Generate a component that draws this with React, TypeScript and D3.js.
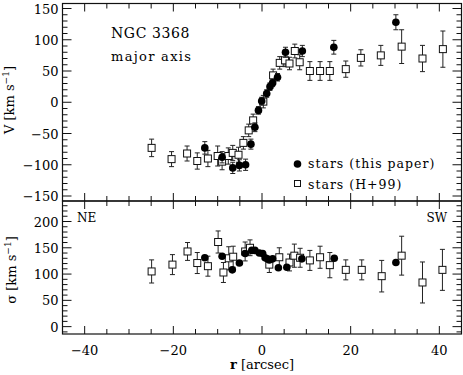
import { useRef, useEffect } from 'react';
import * as d3 from 'd3';

// velocity, this paper (filled circles)
const velThisR = [-12.9, -9.0, -6.6, -5.1, -3.7, -2.5, -1.6, -0.8, -0.07, 1.06, 1.8, 2.4, 3.5, 5.3, 9.1, 16.2, 30.2];
const velThisV = [-73, -88, -105, -101, -100, -67, -40, -13, 2, 14, 25, 31, 40, 80, 82, 88, 128];
const velThisErr = [10, 9, 9, 9, 9, 8, 7, 6, 6, 6, 6, 6, 6, 8, 9, 11, 12];

// velocity, H+99 (open squares)
const velHR = [-24.9, -20.4, -16.9, -14.6, -12.2, -10.0, -9.0, -7.6, -6.6, -5.3, -4.2, -3.0, -2.0, 0.3, 2.5, 4.0, 5.2, 6.2, 7.4, 8.5, 10.8, 13.1, 15.3, 18.9, 22.3, 26.8, 31.5, 36.2, 40.8];
const velHV = [-73, -91, -82, -94, -90, -86, -95, -86, -81, -84, -65, -45, -29, 1, 43, 63, 67, 62, 82, 64, 50, 50, 50, 53, 71, 75, 89, 70, 85];
const velHErr = [14, 12, 12, 13, 13, 16, 13, 13, 12, 12, 10, 10, 10, 10, 10, 10, 10, 10, 11, 12, 15, 15, 15, 13, 13, 16, 27, 21, 29];

// dispersion, this paper
const sigThisR = [-12.9, -9.0, -6.7, -5.1, -3.8, -2.3, -1.6, -0.6, 0.15, 0.7, 1.2, 1.65, 2.4, 3.7, 5.6, 9.0, 16.3, 30.2];
const sigThisS = [131, 134, 108, 121, 139, 145, 145, 140, 139, 131, 129, 127, 129, 112, 113, 129, 130, 122];

// dispersion, H+99
const sigHR = [-24.9, -20.2, -16.8, -14.6, -12.2, -9.9, -8.7, -7.5, -6.5, -3.8, -2.7, 1.65, 3.9, 6.2, 7.3, 8.6, 10.8, 13.1, 15.3, 18.9, 22.5, 27, 31.5, 36.2, 40.7];
const sigHS = [105, 118, 143, 121, 115, 161, 103, 130, 133, 143, 150, 118, 132, 122, 135, 131, 126, 132, 117, 108, 108, 96, 135, 84, 108];
const sigHErr = [22, 19, 17, 20, 19, 21, 19, 22, 20, 18, 15, 15, 18, 16, 22, 18, 19, 21, 24, 19, 19, 30, 37, 39, 39];

const xMajor = [-40, -20, 0, 20, 40];
const velMajor = [-150, -100, -50, 0, 50, 100, 150];
const sigMajor = [0, 50, 100, 150, 200];

const FONT = 'DejaVu Serif';

export default function App() {
    const svgRef = useRef<SVGSVGElement>(null);

    useEffect(() => {
        const svg = d3.select(svgRef.current);
        svg.selectAll('*').remove();

        const x = d3.scaleLinear().domain([-45, 45]).range([62.5, 461.5]);
        const yV = d3.scaleLinear().domain([-158, 158]).range([201, 3.5]);
        const yS = d3.scaleLinear().domain([-14, 239]).range([334, 201]);

        const minus = (d: number) => (d < 0 ? '\u2212' + Math.abs(d) : String(d));

        const panel = (y: d3.ScaleLinear<number, number>, major: number[], minorStep: number) => {
            const g = svg.append('g');
            const [y0, y1] = y.range();
            const [x0, x1] = x.range();
            g.append('rect')
                .attr('x', x0).attr('y', y1)
                .attr('width', x1 - x0).attr('height', y0 - y1)
                .attr('fill', 'none').attr('stroke', '#111').attr('stroke-width', 1.2);

            // x ticks every 5, long at every 20
            const xt = d3.range(-45, 46, 5);
            xt.forEach(t => {
                const len = t % 20 === 0 ? 8 : 5;
                g.append('line').attr('x1', x(t)).attr('x2', x(t)).attr('y1', y0).attr('y2', y0 - len)
                    .attr('stroke', '#111');
                g.append('line').attr('x1', x(t)).attr('x2', x(t)).attr('y1', y1).attr('y2', y1 + len)
                    .attr('stroke', '#111');
            });
            // y ticks
            const [d0, d1] = y.domain();
            const yt = d3.range(Math.ceil(d0 / minorStep) * minorStep, d1 + 0.01, minorStep);
            yt.forEach(t => {
                const len = major.includes(t) ? 9 : 5;
                g.append('line').attr('x1', x0).attr('x2', x0 + len).attr('y1', y(t)).attr('y2', y(t))
                    .attr('stroke', '#111');
                g.append('line').attr('x1', x1).attr('x2', x1 - len).attr('y1', y(t)).attr('y2', y(t))
                    .attr('stroke', '#111');
            });
            g.selectAll('.ylab')
                .data(major)
                .enter()
                .append('text')
                .attr('x', x0 - 4)
                .attr('y', d => y(d) + 5)
                .attr('text-anchor', 'end')
                .style('font-family', FONT)
                .style('font-size', '13px')
                .text(d => minus(d));
            return g;
        };

        const gV = panel(yV, velMajor, 10);
        const gS = panel(yS, sigMajor, 10);

        // x tick labels
        svg.selectAll('.xlab')
            .data(xMajor)
            .enter()
            .append('text')
            .attr('x', d => x(d))
            .attr('y', 355)
            .attr('text-anchor', 'middle')
            .style('font-family', FONT)
            .style('font-size', '13px')
            .text(d => minus(d));

        const errBars = (g: any, rs: number[], vs: number[], es: number[], y: d3.ScaleLinear<number, number>) => {
            rs.forEach((r, i) => {
                const cx = x(r);
                const top = y(vs[i] + es[i]);
                const bot = y(vs[i] - es[i]);
                g.append('line').attr('x1', cx).attr('x2', cx).attr('y1', top).attr('y2', bot).attr('stroke', '#222');
                g.append('line').attr('x1', cx - 2.5).attr('x2', cx + 2.5).attr('y1', top).attr('y2', top).attr('stroke', '#222');
                g.append('line').attr('x1', cx - 2.5).attr('x2', cx + 2.5).attr('y1', bot).attr('y2', bot).attr('stroke', '#222');
            });
        };

        const squares = (g: any, rs: number[], vs: number[], y: d3.ScaleLinear<number, number>) => {
            g.selectAll(null)
                .data(rs)
                .enter()
                .append('rect')
                .attr('x', (d: number) => x(d) - 3.5)
                .attr('y', (_: number, i: number) => y(vs[i]) - 3.5)
                .attr('width', 7)
                .attr('height', 7)
                .attr('fill', 'white')
                .attr('stroke', '#111')
                .attr('stroke-width', 1);
        };

        const dots = (g: any, rs: number[], vs: number[], y: d3.ScaleLinear<number, number>) => {
            g.selectAll(null)
                .data(rs)
                .enter()
                .append('circle')
                .attr('cx', (d: number) => x(d))
                .attr('cy', (_: number, i: number) => y(vs[i]))
                .attr('r', 3.8)
                .attr('fill', '#000');
        };

        // upper panel: rotation curve
        errBars(gV, velHR, velHV, velHErr, yV);
        squares(gV, velHR, velHV, yV);
        errBars(gV, velThisR, velThisV, velThisErr, yV);
        dots(gV, velThisR, velThisV, yV);

        // lower panel: dispersion
        errBars(gS, sigHR, sigHS, sigHErr, yS);
        squares(gS, sigHR, sigHS, yS);
        dots(gS, sigThisR, sigThisS, yS);

        // annotations
        const txt = (px: number, py: number, s: string, size: number, anchor = 'start', ls = 0) =>
            svg.append('text').attr('x', px).attr('y', py).attr('text-anchor', anchor)
                .style('font-family', FONT).style('font-size', size + 'px')
                .style('letter-spacing', ls + 'px').text(s);

        txt(111, 38, 'NGC 3368', 14, 'start', 0.6);
        txt(111, 61, 'major axis', 13, 'start', 1.3);
        txt(77, 222, 'NE', 12);
        txt(447, 222, 'SW', 12, 'end');

        // legend
        svg.append('circle').attr('cx', 297.5).attr('cy', 164).attr('r', 3.8).attr('fill', '#000');
        svg.append('rect').attr('x', 294.5).attr('y', 180.5).attr('width', 6).attr('height', 6)
            .attr('fill', 'white').attr('stroke', '#111');
        txt(308, 168, 'stars (this paper)', 12.5, 'start', 1);
        txt(308, 189, 'stars (H+99)', 12.5, 'start', 1);

        // axis titles
        const ylab = (cx: number, cy: number, sym: string) => {
            const t = svg.append('text')
                .attr('transform', `translate(${cx},${cy}) rotate(-90)`)
                .attr('text-anchor', 'middle')
                .style('font-family', FONT)
                .style('font-size', '13px');
            t.append('tspan').text(sym + ' [km s');
            t.append('tspan').attr('dy', -5).style('font-size', '9px').text('\u22121');
            t.append('tspan').attr('dy', 5).text(']');
        };
        ylab(14, 100, 'V');
        ylab(16, 270, '\u03c3');

        const xl = svg.append('text').attr('x', 262).attr('y', 369).attr('text-anchor', 'middle')
            .style('font-family', FONT).style('font-size', '13px');
        xl.append('tspan').style('font-weight', 'bold').text('r');
        xl.append('tspan').text(' [arcsec]');
    }, []);

    return (
        <svg ref={svgRef} width={463} height={375}
            style={{ position: 'absolute', left: 0, top: 0, background: 'white' }} />
    );
}
